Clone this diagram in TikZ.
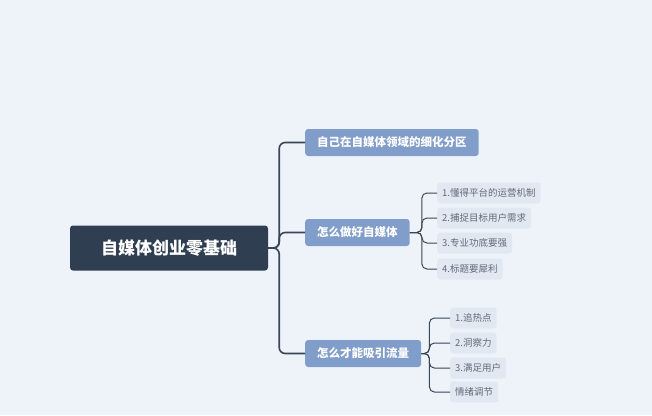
\documentclass[tikz,border=0pt]{standalone}
\usepackage{fontspec}
\newfontfamily\cjk{Noto Sans CJK SC}
\usetikzlibrary{positioning}
\definecolor{bgc}{HTML}{EEF3FA}
\definecolor{rootc}{HTML}{2F3E51}
\definecolor{branchc}{HTML}{819DC9}
\definecolor{leafc}{HTML}{E2E8F1}
\definecolor{linec}{HTML}{3A4656}
\begin{document}
\begin{tikzpicture}[x=1pt,y=-1pt,
  every node/.style={font=\cjk,inner sep=0pt,rounded corners=3pt},
  rootbox/.style={fill=rootc,text=white,font=\cjk\fontsize{17}{19}\selectfont\bfseries,minimum width=198pt,minimum height=45pt},
  branchbox/.style={fill=branchc,text=white,font=\cjk\fontsize{11.5}{13}\selectfont\bfseries,minimum height=27pt,inner xsep=12pt,anchor=west},
  leafbox/.style={fill=leafc,text=linec!80,font=\cjk\fontsize{9.5}{11}\selectfont,minimum height=21pt,inner xsep=5pt,anchor=west},
  conn/.style={draw=linec,line width=1.6pt,rounded corners=6pt},
  thin conn/.style={draw=linec,line width=1pt,rounded corners=5pt}]
  \fill[bgc] (0,0) rectangle (652,415);

  \node[rootbox] (root) at (169,248) {自媒体创业零基础};
  \node[branchbox] (b1) at (305,142.5) {自己在自媒体领域的细化分区};
  \node[branchbox] (b2) at (305,232.5) {怎么做好自媒体};
  \node[branchbox] (b3) at (305,353.5) {怎么才能吸引流量};

  \node[leafbox] (l1) at (437,193) {1.懂得平台的运营机制};
  \node[leafbox] (l2) at (437,218) {2.捕捉目标用户需求};
  \node[leafbox] (l3) at (437,243) {3.专业功底要强};
  \node[leafbox] (l4) at (437,269) {4.标题要犀利};

  \node[leafbox] (m1) at (450,318) {1.追热点};
  \node[leafbox] (m2) at (450,343) {2.洞察力};
  \node[leafbox] (m3) at (450,368) {3.满足用户};
  \node[leafbox] (m4) at (450,392) {情绪调节};

  \foreach \b in {b1,b2,b3}
    \draw[conn] (root.east) -- ++(11,0) |- (\b.west);
  \foreach \l in {l1,l2,l3,l4}
    \draw[thin conn] (b2.east) -- ++(12,0) |- (\l.west);
  \foreach \m in {m1,m2,m3,m4}
    \draw[thin conn] (b3.east) -- ++(8,0) |- (\m.west);
\end{tikzpicture}
\end{document}
